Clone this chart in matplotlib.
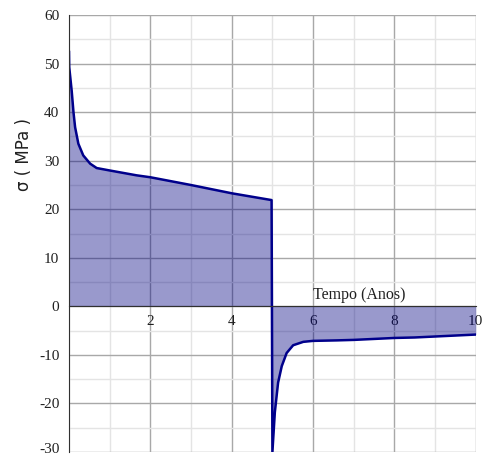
import numpy as np
import matplotlib.pyplot as plt
import matplotlib.transforms as mtransforms
from matplotlib.ticker import MultipleLocator

plt.rcParams['axes.unicode_minus'] = False

# ---------- data ----------
t_years = [0.0, 0.005, 0.066, 0.11, 0.15, 0.23, 0.35, 0.52, 0.68, 1.0, 1.66, 2.0, 3.0, 4.0, 4.98,
           5.0, 5.06, 5.14, 5.23, 5.35, 5.51, 5.76, 6.0, 6.58, 7.0, 7.5, 8.0, 8.5, 9.0, 9.5, 10.0]
sigma_mpa = [52.4, 49.3, 44.4, 40.0, 36.9, 33.5, 31.1, 29.4, 28.5, 28.0, 27.0, 26.6, 25.0, 23.3, 21.9,
             -30.0, -21.8, -15.7, -12.3, -9.6, -8.0, -7.3, -7.1, -7.0, -6.9, -6.7, -6.5, -6.4, -6.2, -6.0, -5.8]

X_TICKS = [2, 4, 6, 8, 10]
Y_TICKS = [-30, -20, -10, 0, 10, 20, 30, 40, 50, 60]

LINE_COLOR = '#00008B'
FILL_COLOR = '#000080'

fig = plt.figure(figsize=(4.86, 4.58), dpi=100)
ax = fig.add_axes([0.142, 0.013, 0.837, 0.954])

t = np.asarray(t_years)
s = np.asarray(sigma_mpa)

ax.fill_between(t, s, 0, color=FILL_COLOR, alpha=0.4, lw=0, zorder=2)
ax.plot(t, s, color=LINE_COLOR, lw=1.8, zorder=3, solid_joinstyle='round')

ax.set_xlim(0, 10)
ax.set_ylim(-30, 60)

ax.set_xticks(X_TICKS)
ax.set_yticks(Y_TICKS)
ax.xaxis.set_minor_locator(MultipleLocator(1))
ax.yaxis.set_minor_locator(MultipleLocator(5))

ax.grid(True, which='major', color='#a8a8a8', lw=1.0, zorder=0)
ax.grid(True, which='minor', color='#e4e4e4', lw=1.0, zorder=0)
ax.set_axisbelow(True)

ax.spines['bottom'].set_position('zero')
ax.spines['bottom'].set_color('#303030')
ax.spines['left'].set_color('#303030')
ax.spines['bottom'].set_zorder(4)
ax.spines['left'].set_zorder(4)
ax.spines['top'].set_visible(False)
ax.spines['right'].set_visible(False)

ax.tick_params(axis='both', which='both', length=0)
ax.tick_params(axis='x', pad=6)
ax.tick_params(axis='y', pad=7)
for lab in ax.get_xticklabels() + ax.get_yticklabels():
    lab.set_fontfamily('Liberation Serif')
    lab.set_fontsize(11)
    lab.set_color('#202020')
    lab.set_clip_on(False)

# lowest y label sits on the figure edge; lift it a touch so it stays whole
low = ax.get_yticklabels()[0]
low.set_transform(low.get_transform() + mtransforms.ScaledTranslation(0, 3 / 72, fig.dpi_scale_trans))

ax.text(6.0, 0.7, 'Tempo (Anos)', fontsize=11.5, family='Liberation Serif',
        color='#202020', ha='left', va='bottom', zorder=5)
fig.text(0.05, 0.662, 'σ ( MPa )', rotation=90, fontsize=12, family='DejaVu Sans',
         color='#202020', ha='center', va='center')

fig.savefig('out.png', dpi=100, facecolor='white')
